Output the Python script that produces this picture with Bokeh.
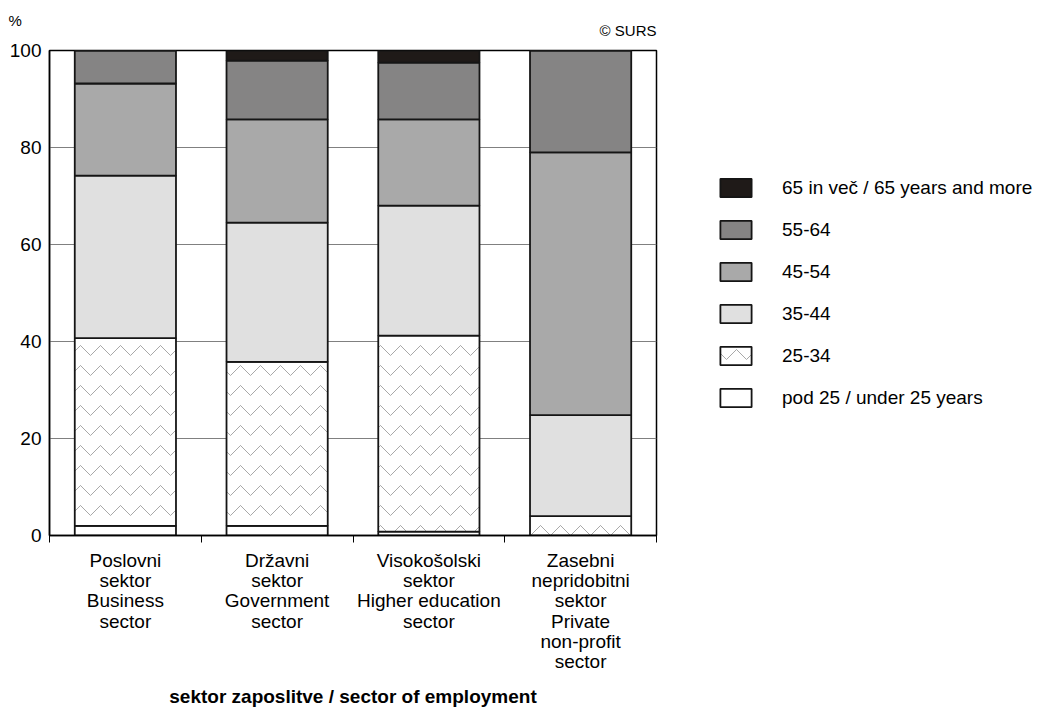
from bokeh.plotting import figure
from bokeh.layouts import row
from bokeh.models import ColumnDataSource, FixedTicker, Range1d, Legend, LegendItem, Title
from bokeh.embed import file_html
from bokeh.resources import INLINE

# ---- data ----
categories = [
    "Poslovni\nsektor\nBusiness\nsector",
    "Državni\nsektor\nGovernment\nsector",
    "Visokošolski\nsektor\nHigher education\nsector",
    "Zasebni\nnepridobitni\nsektor\nPrivate\nnon-profit\nsector",
]
age_groups = ["pod 25 / under 25 years", "25-34", "35-44", "45-54", "55-64",
              "65 in več / 65 years and more"]
under_25 = [2.0, 2.0, 0.8, 0.0]
age_25_34 = [38.7, 33.8, 40.4, 4.0]
age_35_44 = [33.5, 28.7, 26.8, 20.8]
age_45_54 = [19.0, 21.3, 17.8, 54.2]
age_55_64 = [6.8, 12.1, 11.7, 21.0]
age_65_plus = [0.0, 2.1, 2.5, 0.0]
y_ticks = [0, 20, 40, 60, 80, 100]

FONT = "Liberation Sans"
keys = ["u25", "a25", "a35", "a45", "a55", "a65"]
series = [under_25, age_25_34, age_35_44, age_45_54, age_55_64, age_65_plus]
colors = ["#ffffff", "#ffffff", "#e0e0e0", "#a9a9a9", "#858484", "#1f1a18"]
hatches = [" ", "v", " ", " ", " ", " "]
HATCH = dict(hatch_color="#a8a8a8", hatch_scale=20, hatch_weight=1)
LINE = dict(line_color="#151515", line_width=1.8)

n = len(categories)
xs = [i + 0.5 for i in range(n)]
data = {"x": xs}
for k, s in zip(keys, series):
    data[k] = s
src = ColumnDataSource(data)

H = 710
p = figure(width=670, height=H, output_backend="svg", toolbar_location=None,
           x_range=Range1d(0, n), y_range=Range1d(0, 100),
           min_border_left=49, min_border_right=14, min_border_top=50, min_border_bottom=175)
p.background_fill_color = "white"
p.border_fill_color = "white"
p.outline_line_color = "black"
p.outline_line_width = 1.5

renderers = p.vbar_stack(keys, x="x", width=0.667, source=src,
                         fill_color=colors, hatch_pattern=hatches, **HATCH, **LINE)

# axes
p.xgrid.visible = False
p.ygrid.grid_line_color = "#808080"
p.ygrid.grid_line_width = 1
p.ygrid.ticker = FixedTicker(ticks=y_ticks)

ya = p.yaxis[0]
ya.ticker = FixedTicker(ticks=y_ticks)
ya.major_tick_out = 0
ya.major_tick_in = 0
ya.minor_tick_out = 0
ya.minor_tick_in = 0
ya.axis_line_color = "black"
ya.axis_line_width = 1.5
ya.major_label_standoff = 8
ya.major_label_text_font = FONT
ya.major_label_text_font_size = "19px"
ya.major_label_text_color = "black"

xa = p.xaxis[0]
xa.ticker = FixedTicker(ticks=xs, minor_ticks=list(range(n + 1)))
xa.major_label_overrides = {x: c for x, c in zip(xs, categories)}
xa.major_tick_out = 0
xa.major_tick_in = 0
xa.minor_tick_out = 7
xa.minor_tick_in = 0
xa.minor_tick_line_color = "black"
xa.axis_line_color = "black"
xa.axis_line_width = 1.5
xa.major_label_standoff = 7
xa.major_label_text_font = FONT
xa.major_label_text_font_size = "19px"
xa.major_label_text_color = "black"
xa.major_label_text_line_height = 0.97
xa.axis_label = "sektor zaposlitve / sector of employment"
xa.axis_label_text_font = FONT
xa.axis_label_text_font_size = "19px"
xa.axis_label_text_font_style = "bold"
xa.axis_label_text_color = "black"
xa.axis_label_standoff = 11

# texts above the frame
p.add_layout(Title(text="© SURS", align="right", standoff=24, offset=0,
                   text_font=FONT, text_font_size="15px", text_font_style="normal",
                   text_color="black"), "above")
pct = Title(text="%", align="left", standoff=0, offset=-41,
            text_font=FONT, text_font_size="15px", text_font_style="normal",
            text_color="black")
try:
    pct.standoff = -42
except Exception:
    pass
p.add_layout(pct, "above")

# legend, in a side figure; its proxy bars use the same data but are hidden
lf = figure(width=370, height=H, output_backend="svg", toolbar_location=None,
            x_axis_type=None, y_axis_type=None,
            x_range=Range1d(-3, -2), y_range=Range1d(0, 1),
            min_border_left=0, min_border_right=0, min_border_top=0, min_border_bottom=0)
lf.outline_line_color = None
lf.grid.visible = False
lf.background_fill_color = "white"
lf.border_fill_color = "white"
proxies = [lf.vbar(x="x", top=k, width=0.5, source=src, fill_color=c,
                   hatch_pattern=h, visible=False, **HATCH, **LINE)
           for k, c, h in zip(keys, colors, hatches)]
items = [LegendItem(label=age_groups[i], renderers=[proxies[i]]) for i in reversed(range(len(keys)))]
legend = Legend(items=items, location=(46, 126), orientation="vertical",
                glyph_width=39, glyph_height=23, label_height=23, spacing=19,
                label_standoff=27, padding=0, margin=0, click_policy="none",
                border_line_color=None, background_fill_alpha=0,
                label_text_font=FONT, label_text_font_size="19px", label_text_color="black")
lf.add_layout(legend)

layout = row(p, lf)
open("out.html", "w").write(file_html(layout, INLINE))
